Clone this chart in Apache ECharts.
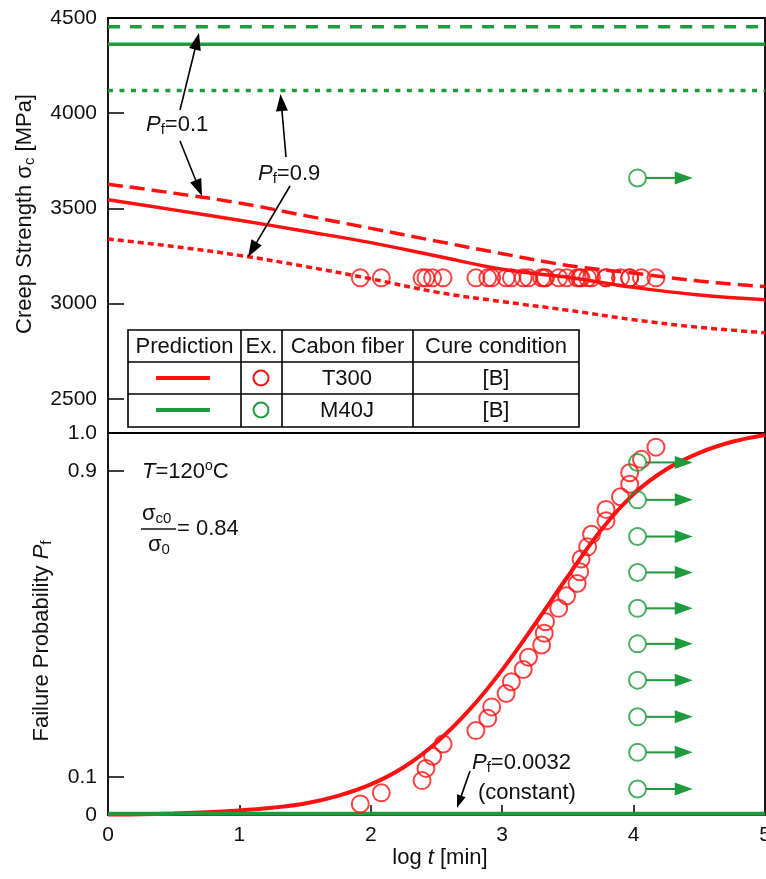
<!DOCTYPE html>
<html>
<head>
<meta charset="utf-8">
<script src="https://cdn.jsdelivr.net/npm/echarts@6/dist/echarts.min.js"></script>
<style>
  html, body { margin: 0; padding: 0; background: #fff; }
  #main { width: 766px; height: 879px; }
</style>
</head>
<body>
<div id="main"></div>
<script>
// ---- data ----
// prediction curves, T300 (upper panel)
const logTGrid = [0, 0.5, 1, 1.5, 2, 2.5, 3, 3.5, 4, 4.5, 5];
const t300Strength = [3545, 3492, 3438, 3380, 3320, 3250, 3180, 3138, 3085, 3045, 3020];
const t300StrengthPf01 = [3627, 3580, 3528, 3462, 3395, 3328, 3262, 3200, 3160, 3118, 3089];
const t300StrengthPf09 = [3339, 3300, 3253, 3195, 3130, 3060, 3010, 2965, 2915, 2875, 2847];
// M40J predictions are flat
const m40jStrength = 4362;
const m40jStrengthPf01 = 4454;
const m40jStrengthPf09 = 4119;
// experiments
const t300Stress = 3135;
const t300LogT = [1.92, 2.08, 2.39, 2.42, 2.47, 2.55, 2.80, 2.89, 2.92, 3.03, 3.07, 3.16, 3.20, 3.30, 3.32,
                  3.33, 3.43, 3.49, 3.57, 3.59, 3.60, 3.65, 3.68, 3.79, 3.79, 3.90, 3.97, 3.97, 4.06, 4.17];
const t300Pf = [0.029, 0.058, 0.090, 0.122, 0.154, 0.186, 0.221, 0.253, 0.283, 0.318, 0.349, 0.381, 0.413, 0.445, 0.476,
                0.506, 0.541, 0.574, 0.606, 0.637, 0.670, 0.702, 0.735, 0.770, 0.800, 0.833, 0.866, 0.896, 0.931, 0.963];
const m40jStress = 3660;
const m40jRunoutLogT = 4.03;
const m40jRunoutPf = [0.923, 0.825, 0.729, 0.635, 0.541, 0.448, 0.353, 0.257, 0.164, 0.068];
const runoutArrowEnd = 4.45;
// failure probability prediction (lower panel)
const cdfLogT = [0, 0.25, 0.5, 0.75, 1, 1.25, 1.5, 1.75, 2, 2.25, 2.5, 2.75, 3, 3.25, 3.5, 3.75, 4, 4.25, 4.5, 4.75, 5];
const cdfPf = [0.001, 0.002, 0.004, 0.007, 0.012, 0.019, 0.03, 0.05, 0.08, 0.125, 0.19, 0.275, 0.38, 0.50, 0.625,
               0.745, 0.84, 0.905, 0.948, 0.977, 0.995];
const m40jPfConst = 0.0032;
// axes
const strengthTicks = [2500, 3000, 3500, 4000, 4500];
const pfTicks = [0.1, 0.9];
const pfLabels = [0, 0.1, 0.9, 1];

const RED = '#ff1111';
const GREEN = '#1f9a3c';
const FONT = 'Liberation Sans, Arial, sans-serif';

function zip(xs, ys) { return xs.map((x, i) => [x, ys[i]]); }
function flat(y) { return [[0, y], [5, y]]; }

var chart = echarts.init(document.getElementById('main'));

function lineSeries(data, color, width, type, xi, yi) {
  return {
    type: 'line', data: data, xAxisIndex: xi, yAxisIndex: yi,
    smooth: 0.4, showSymbol: false, silent: true,
    lineStyle: { color: color, width: width, type: type }
  };
}

function circles(data, color, xi, yi) {
  return {
    type: 'scatter', data: data, xAxisIndex: xi, yAxisIndex: yi, silent: true,
    symbol: 'circle', symbolSize: 17, z: 4,
    itemStyle: { color: 'rgba(0,0,0,0)', borderColor: color, borderWidth: 2 }
  };
}

// run-out arrows drawn through the axes' scales
function runoutArrow(params, api) {
  var p = api.coord([api.value(0), api.value(1)]);
  var e = api.coord([runoutArrowEnd, api.value(1)]);
  var head = 18, half = 6.5;
  return {
    type: 'group',
    children: [
      { type: 'line', shape: { x1: p[0] + 8.5, y1: p[1], x2: e[0] - head + 1, y2: e[1] },
        style: { stroke: GREEN, lineWidth: 2 } },
      { type: 'polygon', shape: { points: [[e[0] - head, e[1] - half], [e[0], e[1]], [e[0] - head, e[1] + half]] },
        style: { fill: GREEN } }
    ]
  };
}

function arrowEls(x1, y1, x2, y2, head, half) {
  var dx = x2 - x1, dy = y2 - y1, len = Math.hypot(dx, dy);
  var ux = dx / len, uy = dy / len;
  var bx = x2 - ux * head, by = y2 - uy * head;
  return [
    { type: 'line', shape: { x1: x1, y1: y1, x2: bx + ux * 2, y2: by + uy * 2 }, style: { stroke: '#000', lineWidth: 1.6 }, z: 20 },
    { type: 'polygon', shape: { points: [[x2, y2], [bx - uy * half, by + ux * half], [bx + uy * half, by - ux * half]] },
      style: { fill: '#000' }, z: 20 }
  ];
}

function txt(x, y, text, rich, opts) {
  opts = opts || {};
  return {
    type: 'text', x: x, y: y, rotation: opts.rotation || 0, z: 30,
    style: {
      text: text, rich: rich, fill: '#111',
      font: (opts.size || 22) + 'px ' + FONT,
      textAlign: opts.align || 'left', align: opts.align || 'left',
      textVerticalAlign: 'middle', verticalAlign: 'middle'
    }
  };
}

var richBase = {
  i: { fontStyle: 'italic', fontSize: 22, fontFamily: FONT, fill: '#111' },
  n: { fontSize: 22, fontFamily: FONT, fill: '#111' },
  s: { fontSize: 15, fontFamily: FONT, fill: '#111', padding: [10, 0, 0, 0] },
  sup: { fontSize: 14, fontFamily: FONT, fill: '#111', padding: [0, 0, 11, 0] }
};

// legend table
var tableCols = [128, 241, 282, 413, 579];
var tableRows = [330, 362, 394, 427];
var tableEls = [{
  type: 'rect', shape: { x: 128, y: 330, width: 451, height: 97 },
  style: { fill: '#fff', stroke: '#000', lineWidth: 1.6 }, z: 25
}];
tableCols.slice(1, -1).forEach(function (x) {
  tableEls.push({ type: 'line', shape: { x1: x, y1: 330, x2: x, y2: 427 }, style: { stroke: '#000', lineWidth: 1.6 }, z: 26 });
});
tableRows.slice(1, -1).forEach(function (y) {
  tableEls.push({ type: 'line', shape: { x1: 128, y1: y, x2: 579, y2: y }, style: { stroke: '#000', lineWidth: 1.6 }, z: 26 });
});
var headers = ['Prediction', 'Ex.', 'Cabon fiber', 'Cure condition'];
headers.forEach(function (h, i) {
  tableEls.push(txt((tableCols[i] + tableCols[i + 1]) / 2, 347, h, null, { align: 'center' }));
});
[[RED, 'T300', 378], [GREEN, 'M40J', 410]].forEach(function (r) {
  tableEls.push({ type: 'line', shape: { x1: 156, y1: r[2], x2: 210, y2: r[2] }, style: { stroke: r[0], lineWidth: 4 }, z: 26 });
  tableEls.push({ type: 'circle', shape: { cx: 261, cy: r[2], r: 7.5 }, style: { fill: 'none', stroke: r[0], lineWidth: 2 }, z: 26 });
  tableEls.push(txt(347, r[2] + 1, r[1], null, { align: 'center' }));
  tableEls.push(txt(496, r[2] + 1, '[B]', null, { align: 'center' }));
});

var graphics = [].concat(
  tableEls,
  // axis names
  [
    txt(25, 214, '{n|Creep Strength σ}{s|c}{n| [MPa]}', richBase, { rotation: Math.PI / 2, align: 'center' }),
    txt(42, 641, '{n|Failure Probability }{i|P}{s|f}', richBase, { rotation: Math.PI / 2, align: 'center' }),
    txt(440, 858, '{n|log }{i|t}{n| [min]}', richBase, { align: 'center' })
  ],
  // annotations
  [
    txt(146, 125, '{i|P}{s|f}{n|=0.1}', richBase),
    txt(258, 174, '{i|P}{s|f}{n|=0.9}', richBase),
    txt(472, 763, '{i|P}{s|f}{n|=0.0032}', richBase),
    txt(478, 793, '(constant)'),
    txt(142, 472, '{i|T}{n|=120}{sup|o}{n|C}', richBase),
    txt(142, 514, '{n|σ}{s|c0}', richBase),
    txt(148, 545, '{n|σ}{s|0}', richBase),
    { type: 'line', shape: { x1: 141, y1: 529, x2: 176, y2: 529 }, style: { stroke: '#111', lineWidth: 1.5 }, z: 30 },
    txt(177, 529, '= 0.84')
  ],
  arrowEls(180, 110, 199, 33, 17, 6),
  arrowEls(180, 141, 202, 196, 17, 6),
  arrowEls(286, 157, 280.5, 94, 17, 6),
  arrowEls(290, 186, 248, 257, 17, 6),
  arrowEls(470, 771, 457, 808, 13, 4.5)
);

var option = {
  animation: false,
  backgroundColor: '#fff',
  grid: [
    { left: 108, top: 18, width: 657, height: 415, show: true, borderColor: '#000', borderWidth: 1.8,
      backgroundColor: 'transparent', containLabel: false, outerBoundsMode: 'none' },
    { left: 108, top: 433, width: 657, height: 382, show: true, borderColor: '#000', borderWidth: 1.8,
      backgroundColor: 'transparent', containLabel: false, outerBoundsMode: 'none' }
  ],
  xAxis: [
    { type: 'value', gridIndex: 0, min: 0, max: 5, axisLine: { show: false }, axisTick: { show: false },
      axisLabel: { show: false }, splitLine: { show: false } },
    { type: 'value', gridIndex: 1, min: 0, max: 5, interval: 1, axisLine: { show: false },
      axisTick: { show: true, inside: true, length: 10, customValues: [1, 2, 3, 4], lineStyle: { color: '#000', width: 1.5 } },
      axisLabel: { fontSize: 21, fontFamily: FONT, color: '#111', margin: 10 },
      splitLine: { show: false } }
  ],
  yAxis: [
    { type: 'value', gridIndex: 0, min: 2320, max: 4500, axisLine: { show: false },
      axisTick: { show: true, inside: true, length: 16, customValues: strengthTicks, lineStyle: { color: '#000', width: 1.5 } },
      axisLabel: { customValues: strengthTicks, fontSize: 21, fontFamily: FONT, color: '#111', margin: 11,
        formatter: function (v) { return String(v); } },
      splitLine: { show: false } },
    { type: 'value', gridIndex: 1, min: 0, max: 1, axisLine: { show: false },
      axisTick: { show: true, inside: true, length: 16, customValues: pfTicks, lineStyle: { color: '#000', width: 1.5 } },
      axisLabel: { customValues: pfLabels, fontSize: 21, fontFamily: FONT, color: '#111', margin: 11,
        formatter: function (v) { return v === 1 ? '1.0' : String(v); } },
      splitLine: { show: false } }
  ],
  series: [
    lineSeries(flat(m40jStrengthPf01), GREEN, 3.5, [12, 10], 0, 0),
    lineSeries(flat(m40jStrength), GREEN, 3.5, 'solid', 0, 0),
    lineSeries(flat(m40jStrengthPf09), GREEN, 3.5, [5, 6.5], 0, 0),
    lineSeries(zip(logTGrid, t300StrengthPf01), RED, 3.5, [15, 7], 0, 0),
    lineSeries(zip(logTGrid, t300Strength), RED, 3.5, 'solid', 0, 0),
    lineSeries(zip(logTGrid, t300StrengthPf09), RED, 3.5, [6, 4], 0, 0),
    circles(t300LogT.map(function (x) { return [x, t300Stress]; }), RED, 0, 0),
    circles([[m40jRunoutLogT, m40jStress]], GREEN, 0, 0),
    { type: 'custom', xAxisIndex: 0, yAxisIndex: 0, silent: true, z: 4,
      data: [[m40jRunoutLogT, m40jStress]], renderItem: runoutArrow },

    lineSeries(zip(cdfLogT, cdfPf), RED, 4, 'solid', 1, 1),
    lineSeries(flat(m40jPfConst), GREEN, 4, 'solid', 1, 1),
    circles(zip(t300LogT, t300Pf), RED, 1, 1),
    circles(m40jRunoutPf.map(function (p) { return [m40jRunoutLogT, p]; }), GREEN, 1, 1),
    { type: 'custom', xAxisIndex: 1, yAxisIndex: 1, silent: true, z: 4,
      data: m40jRunoutPf.map(function (p) { return [m40jRunoutLogT, p]; }), renderItem: runoutArrow }
  ],
  graphic: graphics
};

chart.setOption(option);
</script>
</body>
</html>
